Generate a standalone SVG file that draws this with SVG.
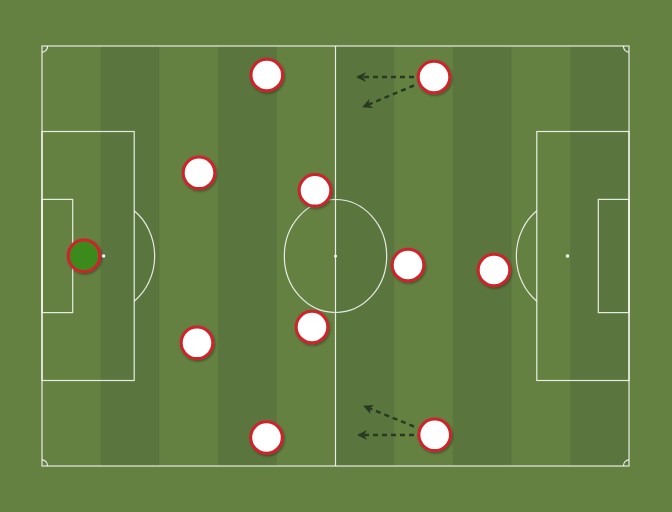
<svg xmlns="http://www.w3.org/2000/svg" width="672" height="512" viewBox="0 0 672 512">
<defs>
<style>
.ln{fill:none;stroke:#ffffff;stroke-opacity:0.85;stroke-width:1.2}
.dk{fill:#5a763e}
.pl{fill:#ffffff;stroke:#d0232b;stroke-width:3;filter:url(#sh)}
.gk{fill:#3e8a1b;stroke:#d0232b;stroke-width:3;filter:url(#sh)}
.ar{fill:none;stroke:#2a3a20;stroke-width:2.5;stroke-dasharray:5 4;marker-end:url(#ah)}
</style>
<filter id="sh" x="-30%" y="-30%" width="160%" height="160%">
<feDropShadow dx="1" dy="1.5" stdDeviation="1.2" flood-color="#000" flood-opacity="0.35"/>
</filter>
<marker id="ah" viewBox="0 0 10 10" refX="8" refY="5" markerWidth="4" markerHeight="4" orient="auto" markerUnits="strokeWidth">
<path d="M0,0 L10,5 L0,10 L3,5 Z" fill="#2a3a20"/>
</marker>
</defs>
<rect x="0" y="0" width="672" height="512" fill="#648142"/>
<g id="stripes">
<rect class="dk" x="100.7" y="46" width="58.7" height="420"/>
<rect class="dk" x="218.1" y="46" width="58.7" height="420"/>
<rect class="dk" x="335.5" y="46" width="58.7" height="420"/>
<rect class="dk" x="452.9" y="46" width="58.7" height="420"/>
<rect class="dk" x="570.3" y="46" width="58.7" height="420"/>
</g>
<g id="pitch">
<rect class="ln" x="42" y="46" width="587" height="420"/>
<line class="ln" x1="335.5" y1="46" x2="335.5" y2="466"/>
<ellipse class="ln" cx="335.5" cy="256" rx="51.2" ry="56.5"/>
<circle cx="335.5" cy="256" r="1.5" fill="#fff"/>
<rect class="ln" x="42" y="131.5" width="92.2" height="249"/>
<rect class="ln" x="42" y="199.4" width="30.7" height="113.2"/>
<circle cx="103.5" cy="256" r="1.8" fill="#fff"/>
<path class="ln" d="M134.2,210.8 A51.2,56.5 0 0 1 134.2,301.2"/>
<rect class="ln" x="536.8" y="131.5" width="92.2" height="249"/>
<rect class="ln" x="598.3" y="199.4" width="30.7" height="113.2"/>
<circle cx="567.5" cy="256" r="1.8" fill="#fff"/>
<path class="ln" d="M536.8,210.8 A51.2,56.5 0 0 0 536.8,301.2"/>
<path class="ln" d="M42,52.2 A5.6,6.2 0 0 0 47.6,46"/>
<path class="ln" d="M623.4,46 A5.6,6.2 0 0 0 629,52.2"/>
<path class="ln" d="M42,459.8 A5.6,6.2 0 0 1 47.6,466"/>
<path class="ln" d="M623.4,466 A5.6,6.2 0 0 1 629,459.8"/>
</g>
<g id="connectors">
<line class="ar" x1="414" y1="77" x2="358" y2="77"/>
<line class="ar" x1="414" y1="85.5" x2="364" y2="106.5"/>
<line class="ar" x1="414" y1="435" x2="359" y2="435"/>
<line class="ar" x1="414" y1="426.5" x2="365" y2="406.5"/>
</g>
<g id="p1"><circle class="gk" cx="84" cy="255.8" r="15.8"/></g>
<g id="p2"><circle class="pl" cx="266.8" cy="75" r="15.8"/></g>
<g id="p3"><circle class="pl" cx="199" cy="172.8" r="15.8"/></g>
<g id="p4"><circle class="pl" cx="197" cy="342.8" r="15.8"/></g>
<g id="p5"><circle class="pl" cx="266.5" cy="437.5" r="15.8"/></g>
<g id="p6"><circle class="pl" cx="315" cy="190.3" r="15.8"/></g>
<g id="p7"><circle class="pl" cx="312" cy="327" r="15.8"/></g>
<g id="p8"><circle class="pl" cx="434" cy="77" r="15.8"/></g>
<g id="p9"><circle class="pl" cx="408" cy="265" r="15.8"/></g>
<g id="p10"><circle class="pl" cx="494" cy="270" r="15.8"/></g>
<g id="p11"><circle class="pl" cx="434.7" cy="434.8" r="15.8"/></g>
</svg>
